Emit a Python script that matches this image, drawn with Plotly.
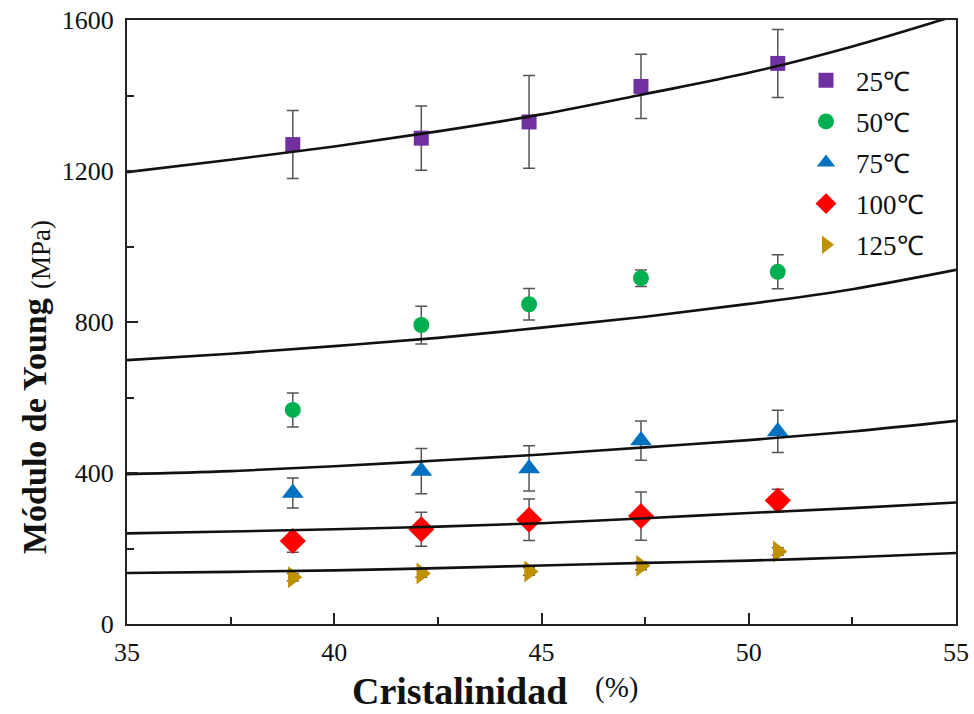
import plotly.graph_objects as go

# ---------------- data ----------------
cristalinidad = [39.0, 42.1, 44.7, 47.4, 50.7]

series_names = ["25℃", "50℃", "75℃", "100℃", "125℃"]
e25 = [1270, 1287, 1330, 1424, 1485]
err25 = [90, 85, 123, 85, 90]
e50 = [567, 792, 847, 916, 933]
err50 = [45, 50, 42, 22, 45]
e75 = [347, 405, 412, 486, 510]
err75 = [40, 60, 60, 52, 56]
e100 = [220, 251, 276, 286, 327]
err100 = [30, 45, 55, 64, 30]
e125 = [124, 134, 139, 154, 192]
err125 = [10, 10, 10, 10, 10]

# fitted curves
fit_x = [35, 37.5, 40, 42.5, 45, 47.5, 50, 52.5, 55]
fit25 = [1197, 1230, 1265, 1305, 1350, 1404, 1460, 1530, 1612]
fit50 = [699, 716, 736, 758, 785, 814, 848, 887, 938]
fit75 = [397, 405, 418, 433, 449, 468, 487, 510, 538]
fit100 = [240, 245, 251, 258, 267, 280, 294, 307, 322]
fit125 = [135, 138, 142, 148, 155, 162, 168, 177, 188]

x_ticks = [35, 40, 45, 50, 55]
y_ticks = [0, 400, 800, 1200, 1600]

# ---------------- styles ----------------
colors = ["#7030A0", "#00B050", "#0070C0", "#FF0000", "#BF9000"]
symbols = ["square", "circle", "triangle-up", "diamond", "triangle-right"]
sizes = [15, 16, 19, 20, 19]
values = [e25, e50, e75, e100, e125]
errors = [err25, err50, err75, err100, err125]
fits = [fit25, fit50, fit75, fit100, fit125]

SERIF = "Liberation Serif"
INK = "#111111"

fig = go.Figure()

for i, name in enumerate(series_names):
    fig.add_trace(go.Scatter(
        x=cristalinidad, y=values[i], mode="markers", name=name,
        legendgroup=name,
        marker=dict(symbol=symbols[i], size=sizes[i], color=colors[i],
                    line=dict(width=0)),
        error_y=dict(type="data", array=errors[i], visible=True,
                     color="#555555", thickness=1.5, width=6),
        cliponaxis=False,
    ))

for i, f in enumerate(fits):
    fig.add_trace(go.Scatter(
        x=fit_x, y=f, mode="lines", showlegend=False,
        line=dict(color=INK, width=2.6, shape="spline", smoothing=1.0),
        hoverinfo="skip",
    ))

fig.update_layout(
    width=974, height=714,
    margin=dict(l=127, r=18, t=20, b=90, autoexpand=False),
    paper_bgcolor="white", plot_bgcolor="white",
    font=dict(family=SERIF, size=25, color=INK),
    showlegend=True,
    legend=dict(
        x=0.807, y=0.94, xanchor="left", yanchor="top",
        bgcolor="rgba(0,0,0,0)", borderwidth=0,
        font=dict(family=SERIF, size=27, color=INK),
        traceorder="grouped", tracegroupgap=3,
        itemwidth=50,
    ),
)

fig.update_xaxes(
    range=[35, 55], tickvals=x_ticks, ticktext=[str(v) for v in x_ticks],
    ticks="inside", ticklen=11, tickwidth=2, tickcolor="#222222",
    minor=dict(dtick=2.5, tick0=35, ticks="inside", ticklen=7,
               tickwidth=2, tickcolor="#222222", showgrid=False),
    showline=True, linewidth=2, linecolor="#222222", mirror=True,
    showgrid=False, zeroline=False, automargin=False,
    ticklabeloverflow="allow",
    tickfont=dict(family=SERIF, size=26, color=INK),
    ticklabelstandoff=4,
)
fig.update_yaxes(
    range=[0, 1600], tickvals=y_ticks, ticktext=[str(v) for v in y_ticks],
    ticks="inside", ticklen=11, tickwidth=2, tickcolor="#222222",
    minor=dict(dtick=200, tick0=0, ticks="inside", ticklen=7,
               tickwidth=2, tickcolor="#222222", showgrid=False),
    showline=True, linewidth=2, linecolor="#222222", mirror=True,
    showgrid=False, zeroline=False, automargin=False,
    ticklabeloverflow="allow",
    tickfont=dict(family=SERIF, size=26, color=INK),
    ticklabelstandoff=6,
)

# axis titles as annotations (positions in window pixels -> paper coords)
PX0, PX1, PY0, PY1 = 127, 956, 624, 20
def px(x):
    return (x - PX0) / (PX1 - PX0)
def py(y):
    return (PY0 - y) / (PY0 - PY1)

fig.add_annotation(
    xref="paper", yref="paper", x=px(459), y=py(691),
    text="<b>Cristalinidad</b>", showarrow=False,
    font=dict(family=SERIF, size=38, color=INK),
    xanchor="center", yanchor="middle",
)
fig.add_annotation(
    xref="paper", yref="paper", x=px(616), y=py(687),
    text="(%)", showarrow=False,
    font=dict(family=SERIF, size=29, color=INK),
    xanchor="center", yanchor="middle",
)
fig.add_annotation(
    xref="paper", yref="paper", x=px(34), y=py(426),
    text="<b>Módulo de Young</b>", showarrow=False, textangle=-90,
    font=dict(family=SERIF, size=34, color=INK),
    xanchor="center", yanchor="middle",
)
fig.add_annotation(
    xref="paper", yref="paper", x=px(41), y=py(255),
    text="(MPa)", showarrow=False, textangle=-90,
    font=dict(family=SERIF, size=27, color=INK),
    xanchor="center", yanchor="middle",
)

# remove the default 8px page margin so the figure fills the window exactly
fig.write_html(
    "out.html",
    config={"displayModeBar": False},
    post_script="document.body.style.margin='0';document.body.style.overflow='hidden';",
)
